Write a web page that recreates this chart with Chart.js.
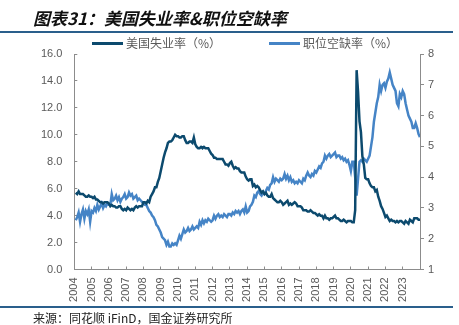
<!DOCTYPE html>
<html>
<head>
<meta charset="utf-8">
<script src="https://cdn.jsdelivr.net/npm/chart.js@4"></script>
<style>
  html, body { margin: 0; padding: 0; background: #fff; }
  #wrap { position: relative; width: 459px; height: 325px; overflow: hidden; }
  #chart { position: absolute; left: 0; top: 0; }
  .title { position: absolute; left: 33px; top: 8px; font: italic bold 17px/20px "Noto Sans CJK SC", sans-serif; color: #111; white-space: nowrap; }
  .rule { position: absolute; left: 0; width: 453px; height: 2px; background: #2a5f8c; }
  .source { position: absolute; left: 33px; top: 311px; font: 12px/14px "Noto Sans CJK SC", sans-serif; color: #222; white-space: nowrap; }
  .legend { position: absolute; top: 36px; font: 12px/14px "Noto Sans CJK SC", sans-serif; color: #595959; white-space: nowrap; }
  .legend i { display: inline-block; width: 31px; height: 3px; vertical-align: middle; margin-right: 3px; position: relative; top: -1px; }
</style>
</head>
<body>
<div id="wrap">
  <canvas id="chart" width="459" height="325"></canvas>
  <div class="title">图表31：美国失业率&amp;职位空缺率</div>
  <div class="rule" style="top:31px"></div>
  <div class="legend" style="left:92px"><i style="background:#0c4a6e"></i>美国失业率（%）</div>
  <div class="legend" style="left:269px"><i style="background:#4584c6"></i>职位空缺率（%）</div>
  <div class="rule" style="top:306px"></div>
  <div class="source">来源：同花顺 iFinD，国金证券研究所</div>
</div>
<script>
// monthly, Jan 2004 - Dec 2023
const startYear = 2004;
const yearTicks = ['2004', '2005', '2006', '2007', '2008', '2009', '2010', '2011', '2012', '2013',
    '2014', '2015', '2016', '2017', '2018', '2019', '2020', '2021', '2022', '2023'];

const unemployment = [
    5.7, 5.6, 5.8, 5.6, 5.6, 5.6, 5.5, 5.4, 5.4, 5.5, 5.4, 5.4,
    5.3, 5.4, 5.2, 5.2, 5.1, 5.0, 5.0, 4.9, 5.0, 5.0, 5.0, 4.9,
    4.7, 4.8, 4.7, 4.7, 4.6, 4.6, 4.7, 4.7, 4.5, 4.4, 4.5, 4.4,
    4.6, 4.5, 4.4, 4.5, 4.4, 4.6, 4.7, 4.6, 4.7, 4.7, 4.7, 5.0,
    5.0, 4.9, 5.1, 5.0, 5.4, 5.6, 5.8, 6.1, 6.1, 6.5, 6.8, 7.3,
    7.8, 8.3, 8.7, 9.0, 9.4, 9.5, 9.5, 9.6, 9.8, 10.0, 9.9, 9.9,
    9.8, 9.8, 9.9, 9.9, 9.6, 9.4, 9.4, 9.5, 9.5, 9.4, 9.8, 9.3,
    9.1, 9.0, 9.0, 9.1, 9.0, 9.1, 9.0, 9.0, 9.0, 8.8, 8.6, 8.5,
    8.3, 8.3, 8.2, 8.2, 8.2, 8.2, 8.2, 8.0, 7.8, 7.8, 7.7, 7.9,
    8.0, 7.7, 7.5, 7.6, 7.5, 7.5, 7.3, 7.2, 7.2, 7.2, 6.9, 6.7,
    6.6, 6.7, 6.7, 6.2, 6.3, 6.1, 6.2, 6.1, 5.9, 5.7, 5.8, 5.6,
    5.7, 5.5, 5.4, 5.4, 5.6, 5.3, 5.2, 5.1, 5.0, 5.0, 5.1, 5.0,
    4.8, 4.9, 5.0, 5.1, 4.8, 4.9, 4.8, 4.9, 5.0, 4.9, 4.7, 4.7,
    4.7, 4.6, 4.4, 4.4, 4.4, 4.3, 4.3, 4.4, 4.3, 4.2, 4.2, 4.1,
    4.0, 4.1, 4.0, 4.0, 3.8, 4.0, 3.8, 3.8, 3.7, 3.8, 3.8, 3.9,
    4.0, 3.8, 3.8, 3.7, 3.6, 3.6, 3.7, 3.6, 3.5, 3.6, 3.6, 3.6,
    3.5, 3.5, 4.4, 14.8, 13.2, 11.0, 10.2, 8.4, 7.8, 6.8, 6.7, 6.7,
    6.4, 6.2, 6.1, 6.1, 5.8, 5.9, 5.4, 5.1, 4.7, 4.5, 4.2, 3.9,
    4.0, 3.8, 3.6, 3.7, 3.6, 3.6, 3.5, 3.6, 3.5, 3.6, 3.6, 3.5,
    3.4, 3.6, 3.5, 3.4, 3.7, 3.6, 3.5, 3.8, 3.8, 3.8, 3.7, 3.7
];

const vacancy = [
    2.60, 2.70, 2.85, 2.55, 2.80, 2.95, 2.65, 2.90, 2.80, 2.95, 2.55, 2.90,
    2.85, 3.00, 2.90, 3.10, 2.95, 3.05, 3.15, 3.00, 3.10, 3.05, 3.15, 3.10,
    3.10, 3.45, 3.25, 3.30, 3.40, 3.25, 3.35, 3.20, 3.30, 3.35, 3.45, 3.30,
    3.35, 3.50, 3.40, 3.45, 3.30, 3.35, 3.40, 3.25, 3.30, 3.25, 3.20, 3.15,
    3.10, 3.10, 3.00, 2.90, 2.85, 2.75, 2.70, 2.60, 2.45, 2.40, 2.30, 2.20,
    2.05, 2.00, 1.95, 1.80, 1.90, 1.75, 1.75, 1.85, 1.80, 1.85, 1.80, 1.95,
    2.10, 2.00, 2.15, 2.30, 2.20, 2.25, 2.35, 2.25, 2.30, 2.40, 2.30, 2.35,
    2.40, 2.35, 2.55, 2.45, 2.60, 2.50, 2.60, 2.55, 2.65, 2.60, 2.55, 2.60,
    2.75, 2.65, 2.75, 2.80, 2.70, 2.75, 2.70, 2.80, 2.75, 2.70, 2.80, 2.80,
    2.75, 2.85, 2.80, 2.90, 2.85, 2.90, 2.80, 2.90, 2.95, 2.85, 3.05, 2.85,
    2.90, 3.05, 3.10, 3.20, 3.40, 3.35, 3.50, 3.55, 3.45, 3.40, 3.50, 3.45,
    3.55, 3.65, 3.60, 3.75, 3.80, 4.00, 3.85, 3.95, 3.90, 3.85, 3.95, 3.90,
    3.95, 4.10, 3.95, 4.05, 3.90, 4.00, 3.85, 3.90, 3.80, 3.85, 3.80, 3.90,
    3.85, 3.80, 3.95, 3.90, 4.05, 4.15, 4.05, 4.00, 4.10, 4.05, 4.20, 4.15,
    4.25, 4.35, 4.30, 4.45, 4.50, 4.70, 4.60, 4.70, 4.75, 4.65, 4.70, 4.75,
    4.80, 4.65, 4.70, 4.70, 4.60, 4.65, 4.55, 4.60, 4.50, 4.55, 4.40, 4.20,
    4.50, 4.50, 4.00, 3.40, 3.95, 4.50, 4.55, 4.50, 4.60, 4.55, 4.50, 4.60,
    4.70, 5.00, 5.30, 5.80, 6.10, 6.40, 6.60, 7.00, 6.80, 7.00, 7.05, 6.90,
    7.10, 7.20, 7.40, 7.20, 7.00, 6.90, 6.80, 6.40, 6.30, 6.70, 6.60, 6.80,
    6.70, 6.40, 6.20, 6.00, 5.90, 5.80, 5.60, 5.60, 5.75, 5.60, 5.40, 5.30
];

const toPoints = arr => arr.map((v, i) => ({ x: startYear + (i + 1) / 12, y: v }));

const tickFont = { family: 'Liberation Sans, Arial, sans-serif', size: 11 };
const tickColor = '#595959';
const axisColor = '#8c8c8c';

new Chart(document.getElementById('chart'), {
    type: 'line',
    data: {
        datasets: [
            {
                label: '美国失业率（%）',
                data: toPoints(unemployment),
                borderColor: '#0c4a6e',
                backgroundColor: '#0c4a6e',
                borderWidth: 2.5,
                pointRadius: 0,
                yAxisID: 'y'
            },
            {
                label: '职位空缺率（%）',
                data: toPoints(vacancy),
                borderColor: '#4584c6',
                backgroundColor: '#4584c6',
                borderWidth: 2.5,
                pointRadius: 0,
                yAxisID: 'y1'
            }
        ]
    },
    options: {
        responsive: false,
        animation: false,
        devicePixelRatio: 1,
        layout: { padding: { top: 54, left: 0, right: 0, bottom: 0 } },
        plugins: {
            legend: { display: false },
            tooltip: { enabled: false }
        },
        scales: {
            x: {
                type: 'linear',
                position: 'bottom',
                min: 2004,
                max: 2024,
                afterFit: s => { s.height = 55.5; },
                ticks: {
                    stepSize: 1,
                    autoSkip: false,
                    minRotation: 90,
                    maxRotation: 90,
                    padding: 11,
                    font: tickFont,
                    color: tickColor,
                    callback: v => yearTicks[v - startYear] || ''
                },
                grid: { drawOnChartArea: false, tickLength: -3, color: axisColor },
                border: { color: axisColor }
            },
            y: {
                position: 'left',
                min: 0,
                max: 16,
                afterFit: s => { s.width = 74.3; },
                ticks: {
                    stepSize: 2,
                    padding: 15,
                    font: tickFont,
                    color: tickColor,
                    callback: v => v.toFixed(1)
                },
                grid: { drawOnChartArea: false, tickLength: -3, color: axisColor },
                border: { color: axisColor }
            },
            y1: {
                position: 'right',
                min: 1,
                max: 8,
                afterFit: s => { s.width = 39; },
                ticks: {
                    stepSize: 1,
                    padding: 4,
                    font: tickFont,
                    color: tickColor
                },
                grid: { drawOnChartArea: false, tickLength: 4, color: axisColor },
                border: { color: axisColor }
            }
        }
    }
});
</script>
</body>
</html>
